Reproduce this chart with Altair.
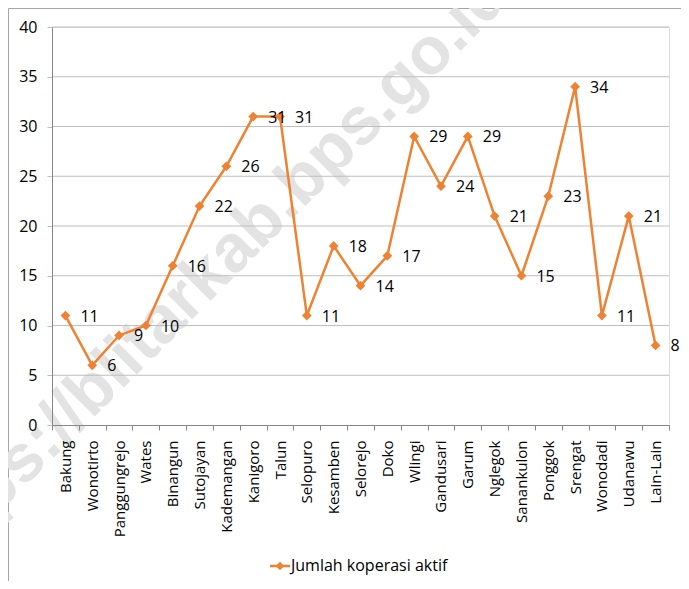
import altair as alt
import pandas as pd

categories = ["Bakung", "Wonotirto", "Panggungrejo", "Wates", "Binangun", "Sutojayan",
              "Kademangan", "Kanigoro", "Talun", "Selopuro", "Kesamben", "Selorejo",
              "Doko", "Wlingi", "Gandusari", "Garum", "Nglegok", "Sanankulon",
              "Ponggok", "Srengat", "Wonodadi", "Udanawu", "Lain-Lain"]
values = [11, 6, 9, 10, 16, 22, 26, 31, 31, 11, 18, 14, 17, 29, 24, 29, 21, 15, 23, 34, 11, 21, 8]
series_name = "Jumlah koperasi aktif"
y_ticks = [0, 5, 10, 15, 20, 25, 30, 35, 40]
watermark = "https://blitarkab.bps.go.id"

df = pd.DataFrame({"Kecamatan": categories, "Jumlah": values, "Seri": series_name})
grid_df = pd.DataFrame({"v": y_ticks[1:]})

ORANGE = "#EF8232"
FONT = "Open Sans"
FS = 16
W, H = 617, 398

x_enc = alt.X("Kecamatan:N", sort=categories, title=None,
              scale=alt.Scale(type="band", paddingInner=0, paddingOuter=0),
              axis=alt.Axis(labelAngle=270, labelAlign="right", labelBaseline="middle",
                            labelFontSize=15, labelFont=FONT, labelColor="#000000",
                            labelPadding=10, tickBand="extent", tickSize=5,
                            tickColor="#868686", domainColor="#868686", grid=False,
                            zindex=1))
y_scale = alt.Scale(domain=[0, 40], nice=False, zero=True)
y_enc = alt.Y("Jumlah:Q", title=None, scale=y_scale,
              axis=alt.Axis(values=y_ticks, labelFontSize=FS, labelFont=FONT,
                            labelColor="#000000", tickSize=5, tickColor="#BFBFBF",
                            labelPadding=10, domainColor="#868686", grid=False,
                            zindex=1))

border = alt.Chart(pd.DataFrame({"a": [1]})).mark_rect(
    fill=None, stroke="#A6A6A6", strokeWidth=1
).encode(x=alt.value(-43.5), x2=alt.value(660), y=alt.value(-18.5), y2=alt.value(570))

wm = alt.Chart(pd.DataFrame({"t": [watermark]})).mark_text(
    font="Liberation Sans", fontWeight="bold", fontSize=67, color="#E3E3E3",
    angle=315, align="center", baseline="middle"
).encode(text="t:N", x=alt.value(157), y=alt.value(247))

grid = alt.Chart(grid_df).mark_rule(color="#BFBFBF", strokeWidth=1).encode(
    y=alt.Y("v:Q", scale=y_scale), x=alt.value(0), x2=alt.value(W))

line = alt.Chart(df).mark_line(color=ORANGE, strokeWidth=2.5).encode(
    x=x_enc, y=y_enc,
    color=alt.Color("Seri:N", scale=alt.Scale(range=[ORANGE]),
                    legend=alt.Legend(title=None, orient="none", legendX=219, legendY=530,
                                      symbolType="M-1.35,0H1.35M-0.35,0L0,-0.35L0.35,0L0,0.35Z",
                                      symbolSize=220, symbolStrokeWidth=2.5,
                                      symbolFillColor=ORANGE, symbolStrokeColor=ORANGE,
                                      labelFontSize=FS, labelFont=FONT, labelColor="#000000",
                                      labelOffset=2)))

pts = alt.Chart(df).mark_point(shape="diamond", filled=True, size=95, color=ORANGE, opacity=1).encode(
    x=x_enc, y=y_enc)

labels = alt.Chart(df).mark_text(align="left", baseline="middle", dx=15, dy=1,
                                 fontSize=FS, font=FONT, color="#000000").encode(
    x=x_enc, y=y_enc, text="Jumlah:Q")

chart = alt.layer(border, wm, grid, line, pts, labels).properties(
    width=W, height=H,
    autosize=alt.AutoSizeParams(type="none"),
    padding={"left": 44, "top": 19, "right": 12, "bottom": 156}
).configure_view(stroke=None).configure(background="white")

chart.save("out.html", embed_options={"renderer": "svg", "actions": False})
